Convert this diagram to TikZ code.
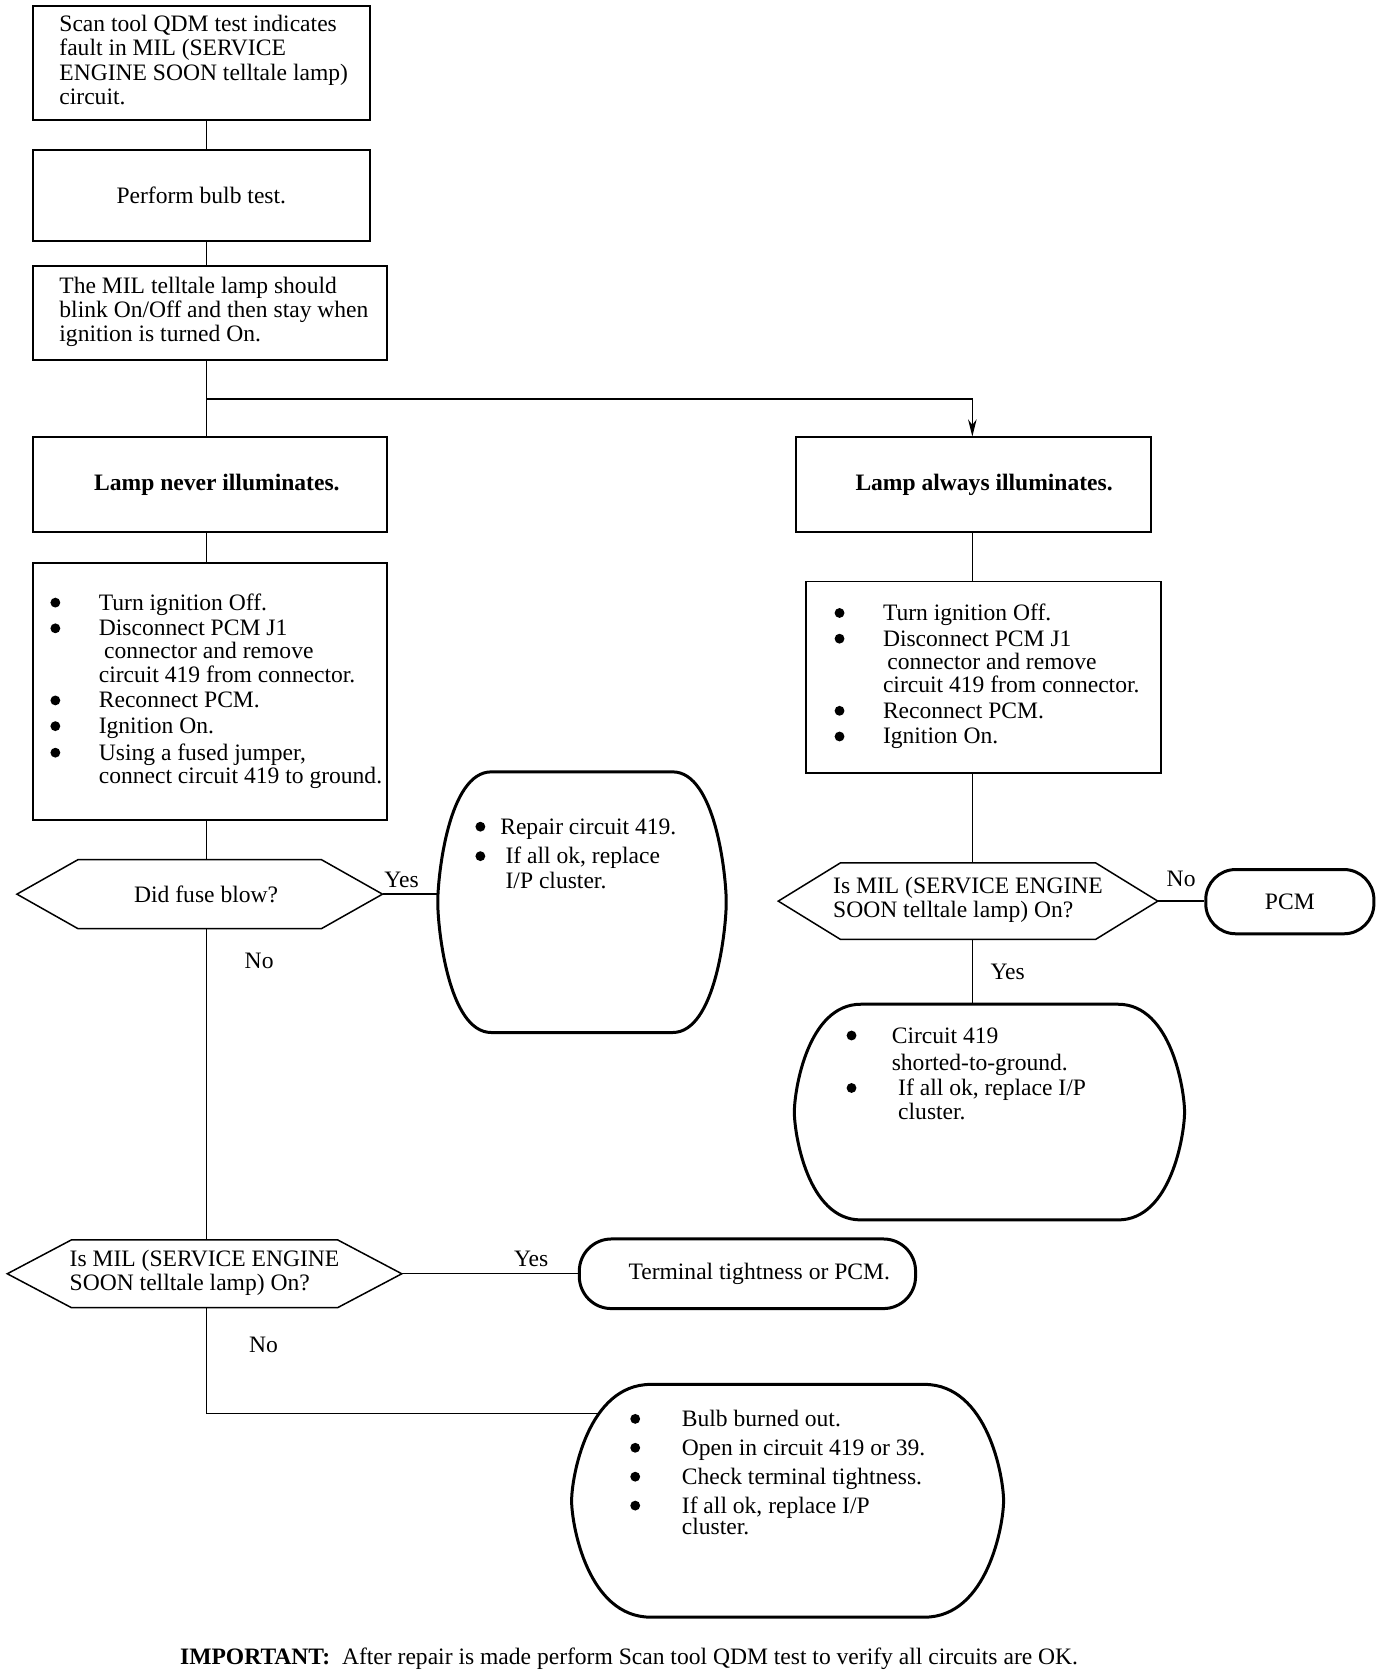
\documentclass[tikz,border=0pt]{standalone}
\usepackage{fontspec}
\usepackage{graphicx}
\setmainfont{Liberation Serif}
\usetikzlibrary{calc,arrows.meta}
\newcommand\lft[2]{\makebox[#1][l]{\begin{tabular}{@{}l@{}}#2\end{tabular}}}
\newcommand\tlft[1]{\begin{tabular}[t]{@{}l@{}}#1\end{tabular}}
\newcommand\clft[1]{\begin{tabular}{@{}l@{}}#1\end{tabular}}
\newcommand\bul[1][47pt]{\makebox[#1][l]{\hspace*{1.8pt}\smash{\tikz[baseline=-7pt]\fill (0,0) circle[radius=4.6pt];}}}
\newcommand\hexa[2]{\draw[hexline] (#1.west) -- ($(#1.north west)+(#2,0)$) -- ($(#1.north east)+(-#2,0)$) -- (#1.east) -- ($(#1.south east)+(-#2,0)$) -- ($(#1.south west)+(#2,0)$) -- cycle;}
\newcommand\barrel[3]{%
\draw[ovalline] ($(#1.north west)+(#2,0)$) -- ($(#1.north east)+(-#2,0)$)
 .. controls ($(#1.north east)+(-0.2*#2,0)$) and ($(#1.north east)+(0,0.8*#3)$) .. (#1.east)
 .. controls ($(#1.south east)+(0,-0.8*#3)$) and ($(#1.south east)+(-0.2*#2,0)$) .. ($(#1.south east)+(-#2,0)$)
 -- ($(#1.south west)+(#2,0)$)
 .. controls ($(#1.south west)+(0.2*#2,0)$) and ($(#1.south west)+(0,-0.8*#3)$) .. (#1.west)
 .. controls ($(#1.north west)+(0,0.8*#3)$) and ($(#1.north west)+(0.2*#2,0)$) .. ($(#1.north west)+(#2,0)$) -- cycle;}
\begin{document}
\begin{tikzpicture}[x=1pt,y=-1pt,
  font=\fontsize{22}{22.5}\selectfont,
  box/.style={draw, line width=1.8pt, inner sep=0pt},
  bulfont/.style={font=\fontsize{22}{21}\selectfont},
  dec/.style={inner sep=0pt},
  hexline/.style={line width=1.4pt, line join=miter},
  conn/.style={line width=1.3pt},
  term/.style={draw, line width=2.8pt, inner sep=0pt},
  ovalline/.style={draw, line width=2.8pt, fill=white},
  place/.style={inner sep=0pt},
  lbl/.style={inner sep=0pt},
  otext/.style={anchor=base west, inner sep=0pt}]
\fill[white] (0,0) rectangle (1300,1567);
\useasboundingbox (0,0) rectangle (1300,1567);

\coordinate (sL) at (193,0);
\coordinate (sR) at (908,0);
\coordinate (brL) at (193,372.5);
\coordinate (bbin) at (620,1320);

% boxes
\node[box, minimum width=315pt, minimum height=106pt, inner xsep=25pt] (b1) at (188,59)
 {\lft{265pt}{Scan tool QDM test indicates\\fault in MIL (SERVICE\\ENGINE SOON telltale lamp)\\circuit.}};
\node[box, minimum width=315pt, minimum height=85pt] (b2) at (188,182.5) {Perform bulb test.};
\node[box, minimum width=331pt, minimum height=88pt, inner xsep=25pt] (b3) at (196,292)
 {\lft{281pt}{The MIL telltale lamp should\\blink On/Off and then stay when\\ignition is turned On.}};
\node[box, minimum width=331pt, minimum height=88pt] (ln) at (196,452.5) {\hspace*{13pt}\bfseries Lamp never illuminates.};
\node[box, minimum width=332pt, minimum height=88pt] (la) at (909,452.5) {\hspace*{20pt}\bfseries Lamp always illuminates.};
\node[box, bulfont, minimum width=331pt, minimum height=240pt, inner xsep=14.8pt] (bl) at (196,646)
 {\lft{301.4pt}{\bul Turn ignition Off.\\[3pt]
 \bul Disconnect PCM J1\\
 \hspace*{52pt}connector and remove\\
 \hspace*{47pt}circuit 419 from connector.\\[3pt]
 \bul Reconnect PCM.\\[3pt]
 \bul Ignition On.\\[3pt]
 \bul Using a fused jumper,\\
 \hspace*{47pt}connect circuit 419 to ground.}};
\node[box, bulfont, minimum width=331pt, minimum height=179pt, inner xsep=24.6pt] (br) at (918.5,632.5)
 {\lft{281.8pt}{\bul Turn ignition Off.\\[3pt]
 \bul Disconnect PCM J1\\
 \hspace*{51pt}connector and remove\\
 \hspace*{47pt}circuit 419 from connector.\\[3pt]
 \bul Reconnect PCM.\\[3pt]
 \bul Ignition On.}};

% decisions
\node[dec, minimum width=341pt, minimum height=64pt] (d1) at (186.5,835) {\hspace*{12pt}Did fuse blow?};
\node[dec, minimum width=368pt, minimum height=63pt] (d2) at (191,1189.5)
 {\clft{Is MIL (SERVICE ENGINE\\SOON telltale lamp) On?}};
\node[dec, minimum width=354pt, minimum height=71pt] (d3) at (904,841.5)
 {\clft{Is MIL (SERVICE ENGINE\\SOON telltale lamp) On?}};
\hexa{d1}{57}
\hexa{d2}{60}
\hexa{d3}{58}

% terminals
\node[term, rounded corners=30pt, minimum width=314pt, minimum height=65pt] (tm) at (698,1189.5) {\hspace*{22pt}Terminal tightness or PCM.};
\node[term, rounded corners=28pt, minimum width=157pt, minimum height=60pt] (pcm) at (1204.5,842) {PCM};
\node[place, minimum width=269pt, minimum height=243pt] (rp) at (543.5,842.5) {};
\node[place, minimum width=364pt, minimum height=201pt] (ci) at (924,1038.5) {};
\node[place, minimum width=403pt, minimum height=217pt] (bb) at (735.5,1401.5) {};

% connectors
\draw[conn] (b1.south -| sL) -- (b2.north -| sL);
\draw[conn] (b2.south -| sL) -- (b3.north -| sL);
\draw[conn] (b3.south -| sL) -- (ln.north -| sL);
\draw[conn, -{Stealth[length=16pt,width=8pt]}] (brL) -| (la.north -| sR);
\draw[conn] (ln.south -| sL) -- (bl.north -| sL);
\draw[conn] (bl.south -| sL) -- (d1.north -| sL);
\draw[conn] (d1.east) -- (d1.east -| rp.west);
\draw[conn] (d1.south -| sL) -- (d2.north -| sL);
\draw[conn] (d2.east) -- (tm.west);
\draw[conn] (d2.south -| sL) |- (bbin);
\draw[conn] (la.south -| sR) -- (br.north -| sR);
\draw[conn] (br.south -| sR) -- (d3.north -| sR);
\draw[conn] (d3.east) -- (d3.east -| pcm.west);
\draw[conn] (d3.south -| sR) -- (ci.north -| sR);

% labels
\node[lbl] (y1) at (375,822) {Yes};
\node[lbl] (n1) at (242,897) {No};
\node[lbl] (y2) at (496,1176) {Yes};
\node[lbl] (n2) at (246,1256) {No};
\node[lbl] (n3) at (1103,821) {No};
\node[lbl] (y3) at (941,908) {Yes};

% barrel outlines
\barrel{rp}{50}{121.5}
\barrel{ci}{62}{100.5}
\barrel{bb}{74}{108.5}

% oval texts
\node[otext] (rpt) at (442,779) {\tlft{\bul[25pt]Repair circuit 419.\\[5pt]
 \bul[30pt]If all ok, replace\\[1pt]
 \hspace*{30pt}I/P cluster.}};
\node[otext] (cit) at (788.6,974) {\tlft{\bul[44pt]Circuit 419\\[3pt]
 \hspace*{44pt}shorted-to-ground.\\[1pt]
 \bul[50pt]If all ok, replace I/P\\
 \hspace*{50pt}cluster.}};
\node[otext] (bbt) at (586.6,1332) {\tlft{\bul[50pt]Bulb burned out.\\[4.5pt]
 \bul[50pt]Open in circuit 419 or 39.\\[4.5pt]
 \bul[50pt]Check terminal tightness.\\[4.5pt]
 \bul[50pt]If all ok, replace I/P\\[-2.5pt]
 \hspace*{50pt}cluster.}};

\node[lbl] (imp) at (587.5,1549) {{\bfseries IMPORTANT:}\ \ After repair is made perform Scan tool QDM test to verify all circuits are OK.};
\end{tikzpicture}
\end{document}
